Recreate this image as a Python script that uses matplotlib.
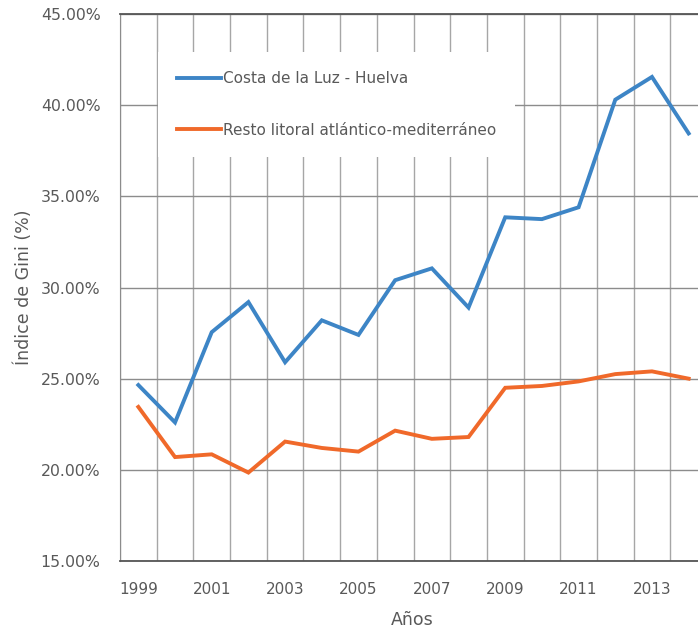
import numpy as np
import matplotlib.pyplot as plt
from matplotlib.ticker import FixedLocator, PercentFormatter

# Gini index per year (%)
years = list(range(1999, 2015))
costa_luz = [24.65, 22.6, 27.55, 29.2, 25.9, 28.2, 27.4, 30.4,
             31.05, 28.9, 33.85, 33.75, 34.4, 40.3, 41.55, 38.45]
resto_litoral = [23.45, 20.7, 20.85, 19.85, 21.55, 21.2, 21.0, 22.15,
                 21.7, 21.8, 24.5, 24.6, 24.85, 25.25, 25.4, 25.0]
series_names = ['Costa de la Luz - Huelva', 'Resto litoral atlántico-mediterráneo']
year_labels = [str(y) if y % 2 == 1 else '' for y in years]

plt.rcParams['font.family'] = ['DejaVu Sans']
TXT = '#595959'

fig = plt.figure(figsize=(6.98, 6.30), dpi=100)
ax = fig.add_axes([120/698, 1 - 561/630, 587/698, 547/630])

x = np.arange(len(years))
ax.plot(x, costa_luz, color='#3d85c6', lw=2.8, label=series_names[0],
        solid_joinstyle='miter', zorder=3)
ax.plot(x, resto_litoral, color='#f0692a', lw=2.8, label=series_names[1],
        solid_joinstyle='miter', zorder=3)

ax.set_xlim(-0.5, len(years) - 0.5)
ax.set_ylim(15, 45)
ax.set_xticks(x)
ax.set_xticklabels(year_labels)
ax.xaxis.set_minor_locator(FixedLocator(np.arange(-0.5, len(years), 1.0)))
ax.set_yticks(np.arange(15, 46, 5))
ax.yaxis.set_major_formatter(PercentFormatter(decimals=2))

ax.grid(axis='y', which='major', color='#8c8c8c', lw=1.0, zorder=0)
ax.grid(axis='x', which='minor', color='#a6a6a6', lw=1.0, zorder=0)
ax.tick_params(which='both', length=0)
ax.tick_params(axis='x', pad=15, labelsize=11, labelcolor=TXT)
ax.tick_params(axis='y', pad=14, labelsize=11.3, labelcolor=TXT)

ax.spines['right'].set_visible(False)
ax.spines['top'].set_color('#555555')
ax.spines['bottom'].set_color('#555555')
ax.spines['left'].set_color('#8c8c8c')
ax.spines['top'].set_linewidth(1.3)
ax.spines['bottom'].set_linewidth(1.3)

ax.set_xlabel('Años', fontsize=12.5, color=TXT)
ax.set_ylabel('Índice de Gini (%)', fontsize=12.5, color=TXT)
ax.xaxis.set_label_coords((412 - 120) / 587, -(611 - 561) / 547)
ax.yaxis.set_label_coords(-(120 - 33) / 587, 0.5)

leg = ax.legend(loc='upper left', bbox_to_anchor=(38/587, 1 - 38/547),
                frameon=True, fancybox=False, framealpha=1,
                facecolor='white', edgecolor='none', fontsize=11,
                handlelength=2.9, handletextpad=0.1, labelspacing=2.4,
                borderpad=1.25, borderaxespad=0)
for t in leg.get_texts():
    t.set_color(TXT)
leg.set_zorder(5)

fig.savefig('out.png', dpi=100)
